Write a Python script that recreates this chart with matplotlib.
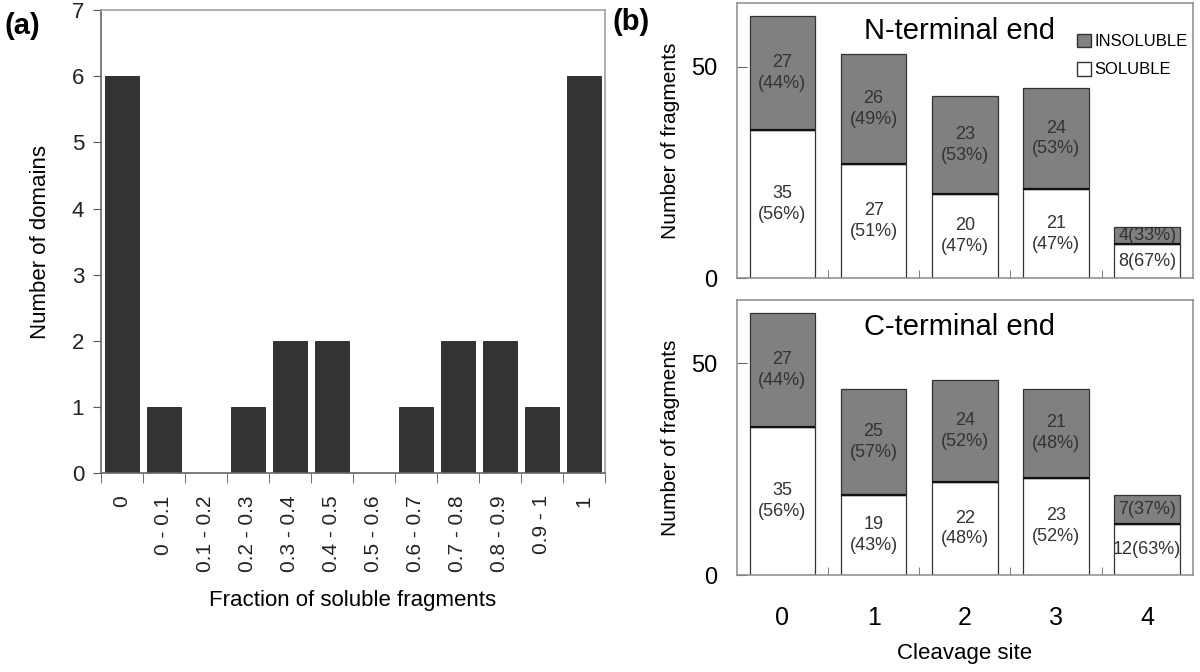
import numpy as np
import matplotlib
matplotlib.use("Agg")
import matplotlib.pyplot as plt
from matplotlib.patches import Patch
from matplotlib.ticker import FixedLocator

plt.rcParams.update({
    "font.family": ["Liberation Sans", "DejaVu Sans"],
    "font.size": 12,
})

# ---- data -------------------------------------------------------------
frac_bins = ["0", "0 - 0.1", "0.1 - 0.2", "0.2 - 0.3", "0.3 - 0.4", "0.4 - 0.5",
             "0.5 - 0.6", "0.6 - 0.7", "0.7 - 0.8", "0.8 - 0.9", "0.9 - 1", "1"]
n_domains = [6, 1, 0, 1, 2, 2, 0, 1, 2, 2, 1, 6]

sites = ["0", "1", "2", "3", "4"]
n_soluble = [35, 27, 20, 21, 8]
n_insoluble = [27, 26, 23, 24, 4]
c_soluble = [35, 19, 22, 23, 12]
c_insoluble = [27, 25, 24, 21, 7]

EDGE = "#8c8c8c"
fig = plt.figure(figsize=(12, 6.72), dpi=100)

# ---- (a) histogram of domains ----------------------------------------
axA = fig.add_axes([0.084, 0.296, 0.420, 0.689])
xa = np.arange(len(frac_bins))
axA.bar(xa, n_domains, width=0.8, color="#333333", edgecolor="#222222", linewidth=0.6)
axA.set_xlim(-0.5, len(frac_bins) - 0.5)
axA.set_ylim(0, 7)
axA.set_yticks(range(8))
axA.set_xticks(xa)
axA.set_xticklabels(frac_bins, rotation=90, fontsize=15, color="#222222")
axA.xaxis.set_minor_locator(FixedLocator(np.arange(-0.5, len(frac_bins), 1.0)))
axA.tick_params(axis="x", which="major", length=0, pad=16)
axA.tick_params(axis="x", which="minor", length=7, color="#555555", direction="out")
axA.tick_params(axis="y", labelsize=16, length=6, color="#555555", pad=6,
                labelcolor="#222222")
for s in axA.spines.values():
    s.set_color("#a0a0a0")
    s.set_linewidth(1.2)
axA.spines["left"].set_color("#666666")
axA.spines["bottom"].set_color("#666666")
axA.set_ylabel("Number of domains", fontsize=16, labelpad=15)
axA.set_xlabel("Fraction of soluble fragments", fontsize=16, labelpad=13)
fig.text(0.004, 0.962, "(a)", fontsize=21, weight="bold", va="center")


# ---- (b) stacked bars -------------------------------------------------
def stacked(ax, sol, ins, title, show_x):
    x = np.arange(len(sites))
    ax.bar(x, sol, width=0.72, color="white", edgecolor="#333333", linewidth=0.9,
           label="SOLUBLE")
    ax.bar(x, ins, bottom=sol, width=0.72, color="#808080", edgecolor="#333333",
           linewidth=0.9, label="INSOLUBLE")
    ax.hlines(sol, x - 0.36, x + 0.36, color="#111111", linewidth=1.6)
    for i, (s, n) in enumerate(zip(sol, ins)):
        tot = s + n
        ps, pn = round(100 * s / tot), round(100 * n / tot)
        if i == len(sites) - 1:
            ts, tn = f"{s}({ps}%)", f"{n}({pn}%)"
        else:
            ts, tn = f"{s}\n({ps}%)", f"{n}\n({pn}%)"
        ax.text(i, s / 2, ts, ha="center", va="center", fontsize=13,
                color="#333333", linespacing=1.3)
        ax.text(i, s + n / 2, tn, ha="center", va="center", fontsize=13,
                color="#333333", linespacing=1.3)
    ax.set_xlim(-0.5, len(sites) - 0.5)
    ax.set_ylim(0, 65)
    ax.set_yticks([0, 50])
    ax.set_xticks(x)
    ax.xaxis.set_minor_locator(FixedLocator(np.arange(0.5, len(sites) - 1, 1.0)))
    ax.tick_params(axis="x", which="major", length=0, pad=22, labelsize=18)
    ax.tick_params(axis="x", which="minor", direction="in", length=6, color="#666666")
    ax.tick_params(axis="y", direction="in", length=7, color="#666666", pad=14,
                   labelsize=17)
    if show_x:
        ax.set_xticklabels(sites)
        ax.set_xlabel("Cleavage site", fontsize=16, labelpad=10)
    else:
        ax.set_xticklabels([])
    ax.set_ylabel("Number of fragments", fontsize=15, labelpad=8)
    for s in ax.spines.values():
        s.set_color(EDGE)
        s.set_linewidth(1.1)
    ax.text(1.94, 58.5, title, ha="center", va="center", fontsize=21)


axN = fig.add_axes([0.614, 0.586, 0.380, 0.4095])
stacked(axN, n_soluble, n_insoluble, "N-terminal end", False)
handles = [Patch(facecolor="#808080", edgecolor="#333333", label="INSOLUBLE"),
           Patch(facecolor="white", edgecolor="#333333", label="SOLUBLE")]
axN.legend(handles=handles, loc="upper right", bbox_to_anchor=(1.01, 0.925),
           frameon=False, fontsize=12, handlelength=0.8, handleheight=0.9,
           handletextpad=0.2, labelspacing=0.75, borderaxespad=0.2)

axC = fig.add_axes([0.614, 0.1443, 0.380, 0.4093])
stacked(axC, c_soluble, c_insoluble, "C-terminal end", True)

fig.text(0.51, 0.968, "(b)", fontsize=21, weight="bold", va="center")

fig.savefig("out.png", dpi=100)
